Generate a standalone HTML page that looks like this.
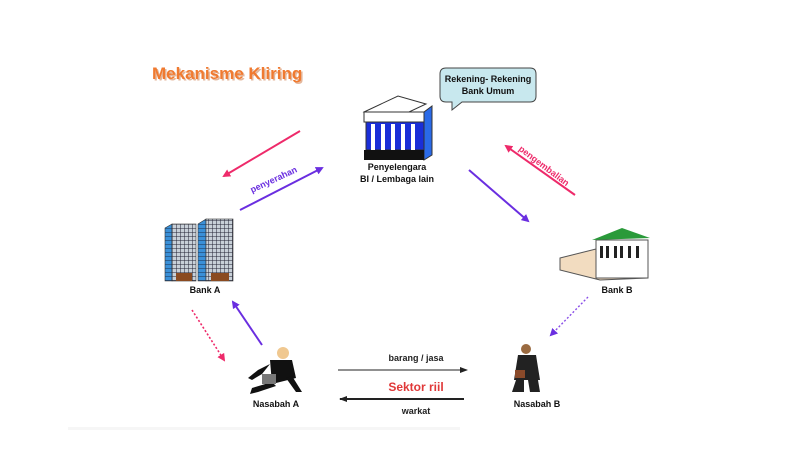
<!DOCTYPE html>
<html><head><meta charset="utf-8"><style>
html,body{margin:0;padding:0;background:#fff;width:800px;height:457px;overflow:hidden}
svg{display:block}
text{font-family:"Liberation Sans",sans-serif;font-weight:bold}
</style></head><body>
<svg width="800" height="457" viewBox="0 0 800 457">
<defs>
<marker id="ap" markerWidth="8" markerHeight="8" refX="6" refY="4" orient="auto" markerUnits="userSpaceOnUse"><path d="M0,0L8,4L0,8z" fill="#ee2a6a"/></marker>
<marker id="av" markerWidth="8" markerHeight="8" refX="6" refY="4" orient="auto" markerUnits="userSpaceOnUse"><path d="M0,0L8,4L0,8z" fill="#6a2ee0"/></marker>
<marker id="ak" markerWidth="8" markerHeight="6" refX="7" refY="3" orient="auto" markerUnits="userSpaceOnUse"><path d="M0,0L8,3L0,6z" fill="#222"/></marker>
<pattern id="win" width="4" height="4" patternUnits="userSpaceOnUse"><rect width="4" height="4" fill="#c8d0d8"/><path d="M0,0H4M0,0V4" stroke="#223" stroke-width="1"/></pattern>
<pattern id="winb" width="4" height="4" patternUnits="userSpaceOnUse"><rect width="4" height="4" fill="#3a90d8"/><path d="M0,0H4" stroke="#1a3050" stroke-width="1"/></pattern>
</defs>
<rect x="68" y="427" width="392" height="3" fill="#f6f6f6"/>
<!-- title -->
<text x="152" y="79" font-size="17" fill="#c8703a" opacity="0.5" transform="translate(1.5,1.5)">Mekanisme Kliring</text>
<text x="152" y="79" font-size="17" fill="#f07a30">Mekanisme Kliring</text>
<!-- bubble -->
<path d="M446,68 Q440,68 440,74 L440,96 Q440,102 446,102 L452,102 L452,110 L462,102 L530,102 Q536,102 536,96 L536,74 Q536,68 530,68 Z" fill="#c8e8ee" stroke="#444" stroke-width="1"/>
<text x="488" y="82" font-size="9" fill="#111" text-anchor="middle">Rekening- Rekening</text>
<text x="488" y="94" font-size="9" fill="#111" text-anchor="middle">Bank Umum</text>
<!-- central bank -->
<polygon points="364,112 398,96 426,104 392,120" fill="#fff" stroke="#333"/>
<rect x="364" y="112" width="60" height="10" fill="#fff" stroke="#333"/>
<polygon points="424,112 432,106 432,155 424,160" fill="#2a6ae8" stroke="#333"/>
<rect x="366" y="122" width="58" height="28" fill="#1a2ed8" stroke="#333"/>
<g fill="#fff"><rect x="371" y="124" width="4" height="26"/><rect x="381" y="124" width="4" height="26"/><rect x="391" y="124" width="4" height="26"/><rect x="401" y="124" width="4" height="26"/><rect x="411" y="124" width="4" height="26"/></g>
<rect x="364" y="150" width="60" height="10" fill="#111"/>
<text x="397" y="170" font-size="9" fill="#111" text-anchor="middle">Penyelengara</text>
<text x="397" y="182" font-size="9" fill="#111" text-anchor="middle">BI / Lembaga lain</text>
<!-- left arrows -->
<line x1="300" y1="131" x2="224" y2="176" stroke="#ee2a6a" stroke-width="2" marker-end="url(#ap)"/>
<line x1="240" y1="210" x2="322" y2="168" stroke="#6a2ee0" stroke-width="2" marker-end="url(#av)"/>
<text x="252" y="193" font-size="9" fill="#6a2ee0" font-weight="normal" transform="rotate(-25 252 193)">penyerahan</text>
<!-- right arrows -->
<line x1="469" y1="170" x2="528" y2="221" stroke="#6a2ee0" stroke-width="2" marker-end="url(#av)"/>
<line x1="575" y1="195" x2="506" y2="146" stroke="#ee2a6a" stroke-width="2" marker-end="url(#ap)"/>
<text x="518" y="150" font-size="9" fill="#ee2a6a" font-weight="normal" transform="rotate(37 518 150)">pengembalian</text>
<!-- Bank A -->
<polygon points="165,228 172,224 172,281 165,281" fill="url(#winb)" stroke="#333" stroke-width="0.6"/>
<rect x="172" y="224" width="24" height="57" fill="url(#win)" stroke="#333" stroke-width="0.6"/>
<polygon points="198,224 206,219 206,281 198,281" fill="url(#winb)" stroke="#333" stroke-width="0.6"/>
<rect x="206" y="219" width="27" height="62" fill="url(#win)" stroke="#333" stroke-width="0.6"/>
<rect x="176" y="273" width="16" height="8" fill="#8a4a20"/>
<rect x="211" y="273" width="18" height="8" fill="#8a4a20"/>
<text x="205" y="293" font-size="9" fill="#111" text-anchor="middle">Bank A</text>
<!-- Bank B -->
<polygon points="560,258 600,248 648,244 648,278 600,280 560,270" fill="#f2dcc0" stroke="#555"/>
<rect x="596" y="240" width="52" height="38" fill="#fff" stroke="#555"/>
<polygon points="592,240 622,228 650,238" fill="#2a9a3a"/>
<g fill="#222"><rect x="600" y="246" width="3" height="12"/><rect x="606" y="246" width="3" height="12"/><rect x="614" y="246" width="3" height="12"/><rect x="620" y="246" width="3" height="12"/><rect x="628" y="246" width="3" height="12"/><rect x="636" y="246" width="3" height="12"/></g>
<text x="617" y="293" font-size="9" fill="#111" text-anchor="middle">Bank B</text>
<!-- lower arrows -->
<line x1="192" y1="310" x2="224" y2="360" stroke="#ee2a6a" stroke-width="1.6" stroke-dasharray="2,2" marker-end="url(#ap)"/>
<line x1="262" y1="345" x2="233" y2="302" stroke="#6a2ee0" stroke-width="2" marker-end="url(#av)"/>
<line x1="588" y1="297" x2="551" y2="335" stroke="#8a4ee8" stroke-width="1.4" stroke-dasharray="2,2" marker-end="url(#av)"/>
<!-- Nasabah A -->
<g fill="#111">
<circle cx="283" cy="353" r="6" fill="#f0c890"/>
<polygon points="270,360 292,360 296,378 272,384"/>
<polygon points="272,382 252,388 250,394 258,392 276,386"/>
<polygon points="286,378 296,392 302,392 292,376"/>
<polygon points="270,364 258,370 248,378 252,380 262,374"/>
</g>
<rect x="262" y="374" width="14" height="10" fill="#777"/>
<text x="276" y="407" font-size="9" fill="#111" text-anchor="middle">Nasabah A</text>
<!-- Nasabah B -->
<g fill="#222">
<circle cx="526" cy="349" r="5" fill="#9a6a40"/>
<polygon points="518,355 536,355 540,380 514,380"/>
<polygon points="516,380 524,380 524,392 512,392"/>
<polygon points="528,380 538,380 540,392 530,392"/>
</g>
<rect x="515" y="370" width="10" height="8" fill="#8a4a2a"/>
<text x="537" y="407" font-size="9" fill="#111" text-anchor="middle">Nasabah B</text>
<!-- center -->
<text x="416" y="361" font-size="9" fill="#222" text-anchor="middle">barang / jasa</text>
<line x1="338" y1="370" x2="467" y2="370" stroke="#222" stroke-width="1" marker-end="url(#ak)"/>
<text x="416" y="391" font-size="12" fill="#e03838" text-anchor="middle">Sektor riil</text>
<line x1="464" y1="399" x2="340" y2="399" stroke="#222" stroke-width="2" marker-end="url(#ak)"/>
<text x="416" y="414" font-size="9" fill="#222" text-anchor="middle">warkat</text>
</svg>
</body></html>
